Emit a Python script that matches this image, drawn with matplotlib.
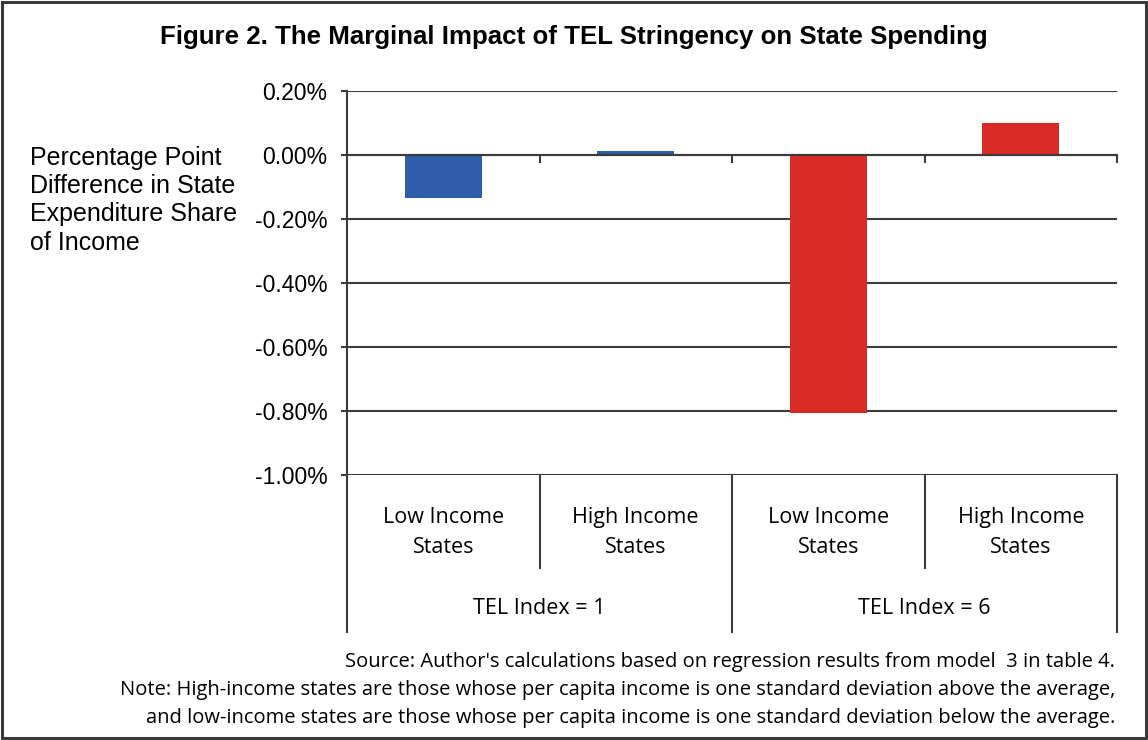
import matplotlib
matplotlib.use("Agg")
import matplotlib.pyplot as plt
from matplotlib.patches import Rectangle
from matplotlib.lines import Line2D

# Data
groups = ["TEL Index = 1", "TEL Index = 6"]
categories = ["Low Income\nStates", "High Income\nStates", "Low Income\nStates", "High Income\nStates"]
values = [-0.135, 0.012, -0.806, 0.100]  # percentage points (%)
bar_colors = ["#2F5DA9", "#2F5DA9", "#DA2A26", "#DA2A26"]
yticks = [0.20, 0.00, -0.20, -0.40, -0.60, -0.80, -1.00]
title = "Figure 2. The Marginal Impact of TEL Stringency on State Spending"
ylabel = "Percentage Point\nDifference in State\nExpenditure Share\nof Income"
source = "Source: Author's calculations based on regression results from model  3 in table 4."
note1 = "Note: High-income states are those whose per capita income is one standard deviation above the average,"
note2 = "and low-income states are those whose per capita income is one standard deviation below the average."

W, H = 1148, 740
fig = plt.figure(figsize=(W / 100, H / 100), dpi=100)
fig.patch.set_facecolor("white")
fig.patches.append(Rectangle((0.002, 0.003), 0.996, 0.994, transform=fig.transFigure,
                             fill=False, edgecolor="#3a3a3a", linewidth=2.2))

left, right, top, bottom = 347, 1117, 91, 475
ax = fig.add_axes([left / W, 1 - bottom / H, (right - left) / W, (bottom - top) / H])

line_col = "#3b3b3b"
x = list(range(len(values)))
ax.bar(x, values, width=0.40, color=bar_colors, zorder=3)
ax.set_xlim(-0.5, len(values) - 0.5)
ax.set_ylim(-1.0, 0.2)
ax.set_yticks(yticks)
ax.set_yticklabels([f"{v:.2f}%" for v in yticks], fontsize=16.5, family="Liberation Sans")
ax.grid(axis="y", color=line_col, linewidth=1.5, zorder=1)
ax.set_axisbelow(True)

for s in ["top", "right"]:
    ax.spines[s].set_visible(False)
ax.spines["left"].set_color(line_col)
ax.spines["left"].set_linewidth(1.5)
ax.spines["bottom"].set_position(("data", 0))
ax.spines["bottom"].set_color(line_col)
ax.spines["bottom"].set_linewidth(1.5)
ax.spines["bottom"].set_zorder(4)

bounds = [i + 0.5 for i in range(len(values))]
ax.set_xticks(bounds)
ax.set_xticklabels([])
ax.tick_params(axis="x", direction="out", length=6, width=1.5, color=line_col)
ax.tick_params(axis="y", direction="out", length=4, width=1.5, color=line_col, pad=10)

# Category labels and separator lines below the plot
xt = ax.get_xaxis_transform()
cat_font = "Open Sans"
for i, lab in enumerate(categories):
    ax.text(i, -0.150, lab, transform=xt, ha="center", va="center", fontsize=15.5,
            family=cat_font, linespacing=1.6)
for gi, g in enumerate(groups):
    ax.text(gi * 2 + 0.5, -0.347, g, transform=xt, ha="center", va="center", fontsize=15.5,
            family=cat_font)
# long separators (group boundaries)
for xb in [-0.5, 1.5, 3.5]:
    ax.add_line(Line2D([xb, xb], [0, -0.409], transform=xt, color=line_col, linewidth=1.5,
                       clip_on=False))
# short separators (between categories)
for xb in [0.5, 2.5]:
    ax.add_line(Line2D([xb, xb], [0, -0.242], transform=xt, color=line_col, linewidth=1.5,
                       clip_on=False))

fig.text(574 / W, 1 - 37 / H, title, ha="center", va="center", fontsize=18.6,
         fontweight="bold", family="Liberation Sans")
fig.text(30 / W, 1 - 146 / H, ylabel, ha="left", va="top", fontsize=18,
         family="Liberation Sans", linespacing=1.22)

fs_note = 14.5
fig.text(1115 / W, 1 - 662 / H, source, ha="right", va="center", fontsize=fs_note, family=cat_font)
fig.text(1115 / W, 1 - 690 / H, note1, ha="right", va="center", fontsize=fs_note, family=cat_font)
fig.text(1115 / W, 1 - 718 / H, note2, ha="right", va="center", fontsize=fs_note, family=cat_font)

fig.savefig("out.png", dpi=100)
